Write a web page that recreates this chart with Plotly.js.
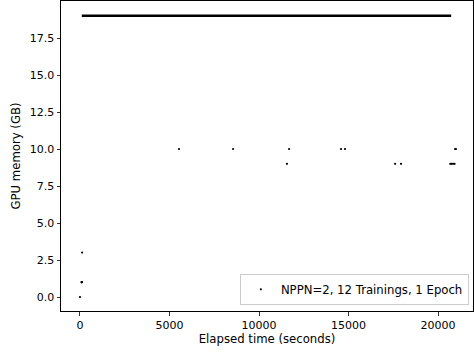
<!DOCTYPE html>
<html><head><meta charset="utf-8">
<script src="https://cdn.plot.ly/plotly-3.0.1.min.js"></script>
<style>body{margin:0;padding:0;background:#fff}#c{width:474px;height:354px}</style>
</head><body><div id="c"></div>
<script>
// Sampled GPU memory points (seconds, GB)
const pointX = [0, 90, 100, 110, 120, 5530, 8550, 11560, 11680, 14580, 14800, 17600, 17930, 20680, 20760, 20840, 20920, 20950, 21000];
const pointY = [0, 1, 1, 1, 3, 10, 10, 9, 10, 10, 10, 9, 9, 9, 9, 9, 9, 10, 10];
// Dense run of samples at total memory (drawn as a continuous band of dots)
const bandX = [100, 20730];
const bandY = [19, 19];
const xTicks = [0, 5000, 10000, 15000, 20000];
const yTicks = [0, 2.5, 5, 7.5, 10, 12.5, 15, 17.5];
const seriesName = "NPPN=2, 12 Trainings, 1 Epoch";

const font = {family: "DejaVu Sans", size: 11, color: "#000"};
const titleFont = {family: "DejaVu Sans", size: 11.7, color: "#000"};
const traces = [
  {x: bandX, y: bandY, type: "scatter", mode: "lines", line: {color: "#000", width: 2.6}, showlegend: false, hoverinfo: "skip"},
  {x: pointX, y: pointY, type: "scatter", mode: "markers", name: seriesName,
   marker: {color: "#000", size: 2.2, line: {width: 0}}}
];
const axisCommon = {showline: true, mirror: true, linecolor: "#000", linewidth: 1, showgrid: false, zeroline: false,
  ticks: "outside", ticklen: 3.5, tickwidth: 0.8, tickcolor: "#000", tickfont: font};
const layout = {
  width: 474, height: 354,
  margin: {l: 61, r: 1, t: 1, b: 43},
  paper_bgcolor: "#fff", plot_bgcolor: "#fff",
  font: font,
  xaxis: Object.assign({}, axisCommon, {range: [-1060, 21950], tickvals: xTicks, ticktext: xTicks.map(String),
    title: {text: "Elapsed time (seconds)", font: titleFont, standoff: 4}}),
  yaxis: Object.assign({}, axisCommon, {range: [-0.946, 20.0], tickvals: yTicks, ticktext: yTicks.map(v => v.toFixed(1)),
    title: {text: "GPU memory (GB)", font: titleFont, standoff: 6}}),
  showlegend: true,
  legend: {x: 0.99, y: 0.02, xanchor: "right", yanchor: "bottom", bgcolor: "rgba(255,255,255,0.8)",
    bordercolor: "#ccc", borderwidth: 1, font: titleFont, itemwidth: 30, tracegroupgap: 0}
};
Plotly.newPlot("c", traces, layout, {displayModeBar: false, staticPlot: true});
</script>
</body></html>
